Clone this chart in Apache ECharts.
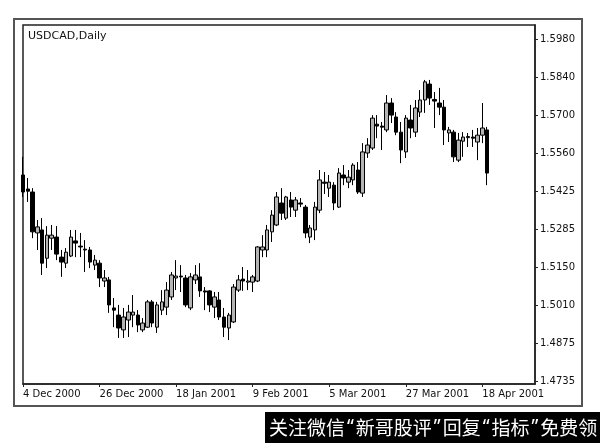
<!DOCTYPE html>
<html><head><meta charset="utf-8">
<script src="https://cdn.jsdelivr.net/npm/echarts@6/dist/echarts.min.js"></script>
<style>html,body{margin:0;padding:0;background:#fff}#c{width:600px;height:443px}</style>
</head><body><div id="c"></div>
<script>
const dates = [
'4 Dec 2000','5 Dec 2000','6 Dec 2000','7 Dec 2000','8 Dec 2000',
'11 Dec 2000','12 Dec 2000','13 Dec 2000','14 Dec 2000','15 Dec 2000',
'18 Dec 2000','19 Dec 2000','20 Dec 2000','21 Dec 2000','22 Dec 2000',
'25 Dec 2000','26 Dec 2000','27 Dec 2000','28 Dec 2000','29 Dec 2000',
'2 Jan 2001','3 Jan 2001','4 Jan 2001','5 Jan 2001',
'8 Jan 2001','9 Jan 2001','10 Jan 2001','11 Jan 2001','12 Jan 2001',
'15 Jan 2001','16 Jan 2001','17 Jan 2001','18 Jan 2001','19 Jan 2001',
'22 Jan 2001','23 Jan 2001','24 Jan 2001','25 Jan 2001','26 Jan 2001',
'29 Jan 2001','30 Jan 2001','31 Jan 2001','1 Feb 2001','2 Feb 2001',
'5 Feb 2001','6 Feb 2001','7 Feb 2001','8 Feb 2001','9 Feb 2001',
'12 Feb 2001','13 Feb 2001','14 Feb 2001','15 Feb 2001','16 Feb 2001',
'19 Feb 2001','20 Feb 2001','21 Feb 2001','22 Feb 2001','23 Feb 2001',
'26 Feb 2001','27 Feb 2001','28 Feb 2001','1 Mar 2001','2 Mar 2001',
'5 Mar 2001','6 Mar 2001','7 Mar 2001','8 Mar 2001','9 Mar 2001',
'12 Mar 2001','13 Mar 2001','14 Mar 2001','15 Mar 2001','16 Mar 2001',
'19 Mar 2001','20 Mar 2001','21 Mar 2001','22 Mar 2001','23 Mar 2001',
'26 Mar 2001','27 Mar 2001','28 Mar 2001','29 Mar 2001','30 Mar 2001',
'2 Apr 2001','3 Apr 2001','4 Apr 2001','5 Apr 2001','6 Apr 2001',
'9 Apr 2001','10 Apr 2001','11 Apr 2001','12 Apr 2001','13 Apr 2001',
'16 Apr 2001','17 Apr 2001','18 Apr 2001','19 Apr 2001','20 Apr 2001',
'23 Apr 2001','24 Apr 2001','25 Apr 2001','26 Apr 2001','27 Apr 2001',
'30 Apr 2001','1 May 2001','2 May 2001','3 May 2001'];

const xTickLabels = ['4 Dec 2000','26 Dec 2000','18 Jan 2001','9 Feb 2001','5 Mar 2001','27 Mar 2001','18 Apr 2001'];

const open = [1.5485,1.5434,1.5423,1.5274,1.5285,1.5182,1.5255,1.5259,1.5186,1.5164,
1.5190,1.5245,1.5226,1.5215,1.5212,1.5157,1.5164,1.5099,1.5103,1.5001,
1.4975,1.4921,1.4957,1.4975,1.4975,1.4921,1.4931,1.5023,1.4931,1.4993,
1.5004,1.5041,1.5110,1.5117,1.5110,1.5001,1.5103,1.5114,1.5063,1.5063,
1.5004,1.5030,1.4968,1.4928,1.4950,1.5066,1.5106,1.5095,1.5095,1.5099,
1.5212,1.5212,1.5278,1.5303,1.5383,1.5328,1.5394,1.5357,1.5383,1.5368,
1.5259,1.5285,1.5357,1.5459,1.5437,1.5448,1.5368,1.5485,1.5459,1.5467,
1.5503,1.5419,1.5565,1.5583,1.5670,1.5663,1.5649,1.5747,1.5696,1.5641,
1.5569,1.5685,1.5641,1.5714,1.5758,1.5816,1.5760,1.5747,1.5732,1.5638,
1.5641,1.5539,1.5608,1.5621,1.5623,1.5605,1.5630,1.5649];
const close = [1.5423,1.5426,1.5278,1.5296,1.5164,1.5266,1.5266,1.5197,1.5168,1.5204,
1.5259,1.5237,1.5223,1.5212,1.5168,1.5175,1.5110,1.5110,1.5012,1.4993,
1.4928,1.4968,1.4986,1.4986,1.4939,1.4946,1.5023,1.4946,1.5012,1.5023,
1.5066,1.5121,1.5117,1.5114,1.5012,1.5114,1.5121,1.5063,1.5059,1.5012,
1.5041,1.4968,1.4931,1.4975,1.5077,1.5103,1.5099,1.5099,1.5114,1.5223,
1.5223,1.5285,1.5339,1.5405,1.5346,1.5405,1.5368,1.5394,1.5379,1.5274,
1.5292,1.5368,1.5467,1.5455,1.5459,1.5383,1.5492,1.5474,1.5477,1.5521,
1.5423,1.5569,1.5594,1.5692,1.5663,1.5659,1.5747,1.5703,1.5641,1.5576,
1.5692,1.5656,1.5729,1.5758,1.5824,1.5765,1.5754,1.5732,1.5649,1.5649,
1.5551,1.5612,1.5623,1.5625,1.5619,1.5630,1.5656,1.5492];
const low = [1.5405,1.5387,1.5255,1.5212,1.5121,1.5146,1.5212,1.5175,1.5114,1.5146,
1.5186,1.5186,1.5186,1.5132,1.5146,1.5139,1.5077,1.5077,1.4983,1.4931,
1.4892,1.4892,1.4895,1.4931,1.4913,1.4913,1.4928,1.4931,1.4910,1.4975,
1.4975,1.5030,1.5066,1.5059,1.5004,1.4993,1.5088,1.5041,1.4993,1.4986,
1.4964,1.4957,1.4895,1.4884,1.4946,1.5059,1.5063,1.5066,1.5059,1.5095,
1.5186,1.5186,1.5241,1.5299,1.5321,1.5321,1.5332,1.5332,1.5368,1.5255,
1.5237,1.5248,1.5346,1.5416,1.5405,1.5357,1.5365,1.5448,1.5437,1.5448,
1.5416,1.5405,1.5547,1.5576,1.5619,1.5576,1.5641,1.5674,1.5630,1.5528,
1.5547,1.5619,1.5623,1.5696,1.5711,1.5740,1.5656,1.5703,1.5594,1.5605,
1.5532,1.5532,1.5551,1.5587,1.5587,1.5539,1.5601,1.5448];
const high = [1.5551,1.5474,1.5437,1.5321,1.5328,1.5299,1.5303,1.5299,1.5212,1.5219,
1.5285,1.5285,1.5274,1.5248,1.5223,1.5194,1.5175,1.5139,1.5114,1.5037,
1.5012,1.5001,1.5012,1.5048,1.4993,1.4964,1.5030,1.5030,1.5023,1.5066,
1.5095,1.5132,1.5175,1.5157,1.5121,1.5128,1.5157,1.5164,1.5077,1.5066,
1.5059,1.5059,1.5001,1.4983,1.5088,1.5121,1.5150,1.5139,1.5121,1.5226,
1.5266,1.5303,1.5357,1.5423,1.5437,1.5409,1.5423,1.5405,1.5401,1.5376,
1.5303,1.5387,1.5503,1.5496,1.5485,1.5459,1.5510,1.5521,1.5503,1.5528,
1.5532,1.5601,1.5619,1.5703,1.5703,1.5678,1.5776,1.5765,1.5714,1.5678,
1.5703,1.5740,1.5758,1.5794,1.5831,1.5831,1.5787,1.5802,1.5758,1.5660,
1.5649,1.5638,1.5641,1.5638,1.5649,1.5656,1.5747,1.5660];

const yTickLabels = ['1.4735','1.4875','1.5010','1.5150','1.5285','1.5425','1.5560','1.5700','1.5840','1.5980'];
const chartTitle = 'USDCAD,Daily';
const watermarkParts = ['关注微信', '“', '新哥股评', '”', '回复', '“', '指标', '”', '免费领'];

const yFirst = 1.4735, yLast = 1.5980;
const yTickPos = yTickLabels.map((s, i) => yFirst + i * (yLast - yFirst) / (yTickLabels.length - 1));
const candles = open.map((o, i) => [o, close[i], low[i], high[i]]);
const showX = (i, v) => xTickLabels.indexOf(v !== undefined ? v : dates[i]) >= 0;

const wmText = watermarkParts.map(p => (p === '“' || p === '”') ? '{q|' + p + '}' : '{c|' + p + '}').join('');

const chart = echarts.init(document.getElementById('c'), null, {renderer: 'canvas'});
const FONT = 'DejaVu Sans';
chart.setOption({
  backgroundColor: '#fff',
  animation: false,
  title: {
    text: chartTitle, left: 28, top: 31, padding: 0,
    textStyle: {fontFamily: FONT, fontSize: 11, fontWeight: 'normal', color: '#111'}
  },
  grid: {left: 23, right: 65, top: 25, bottom: 59, show: true, borderColor: '#222', borderWidth: 1.5, backgroundColor: '#fff'},
  xAxis: {
    type: 'category', data: dates, boundaryGap: false,
    axisLine: {show: true, lineStyle: {color: '#222', width: 1.5}},
    axisTick: {show: true, interval: (i, v) => showX(i, v), length: 3, lineStyle: {color: '#222'}},
    axisLabel: {interval: (i, v) => showX(i, v), align: 'left', margin: 5, fontFamily: FONT, fontSize: 10, color: '#111',
      hideOverlap: false},
    splitLine: {show: false}
  },
  yAxis: {
    type: 'value', position: 'right', scale: true,
    min: 1.47241, max: 1.6031,
    axisLine: {show: true, lineStyle: {color: '#222', width: 1.5}},
    axisTick: {show: true, length: 3, customValues: yTickPos, lineStyle: {color: '#222'}},
    axisLabel: {
      customValues: yTickPos, margin: 5, fontFamily: FONT, fontSize: 10, color: '#111',
      formatter: function (v) {
        let best = 0, bd = Infinity;
        yTickPos.forEach((p, i) => { const d = Math.abs(p - v); if (d < bd) { bd = d; best = i; } });
        return yTickLabels[best];
      }
    },
    splitLine: {show: false}
  },
  series: [{
    type: 'candlestick',
    data: candles,
    barWidth: 4,
    itemStyle: {color: '#b4b4b4', color0: '#000', borderColor: '#000', borderColor0: '#000', borderWidth: 1}
  }],
  graphic: [
    {type: 'rect', shape: {x: 14, y: 19, width: 568, height: 387}, style: {fill: 'none', stroke: '#555', lineWidth: 2}, silent: true},
    {type: 'rect', shape: {x: 265, y: 412, width: 335, height: 31}, style: {fill: '#000'}, silent: true},
    {type: 'text', x: 269, y: 428, silent: true,
      style: {text: wmText, textVerticalAlign: 'middle',
        rich: {
          c: {fill: '#fff', fontFamily: 'Noto Sans CJK SC', fontSize: 19},
          q: {fill: '#fff', fontFamily: 'Noto Sans', fontSize: 19, padding: [0, 2, 0, 2]}
        }}}
  ]
});
</script></body></html>
